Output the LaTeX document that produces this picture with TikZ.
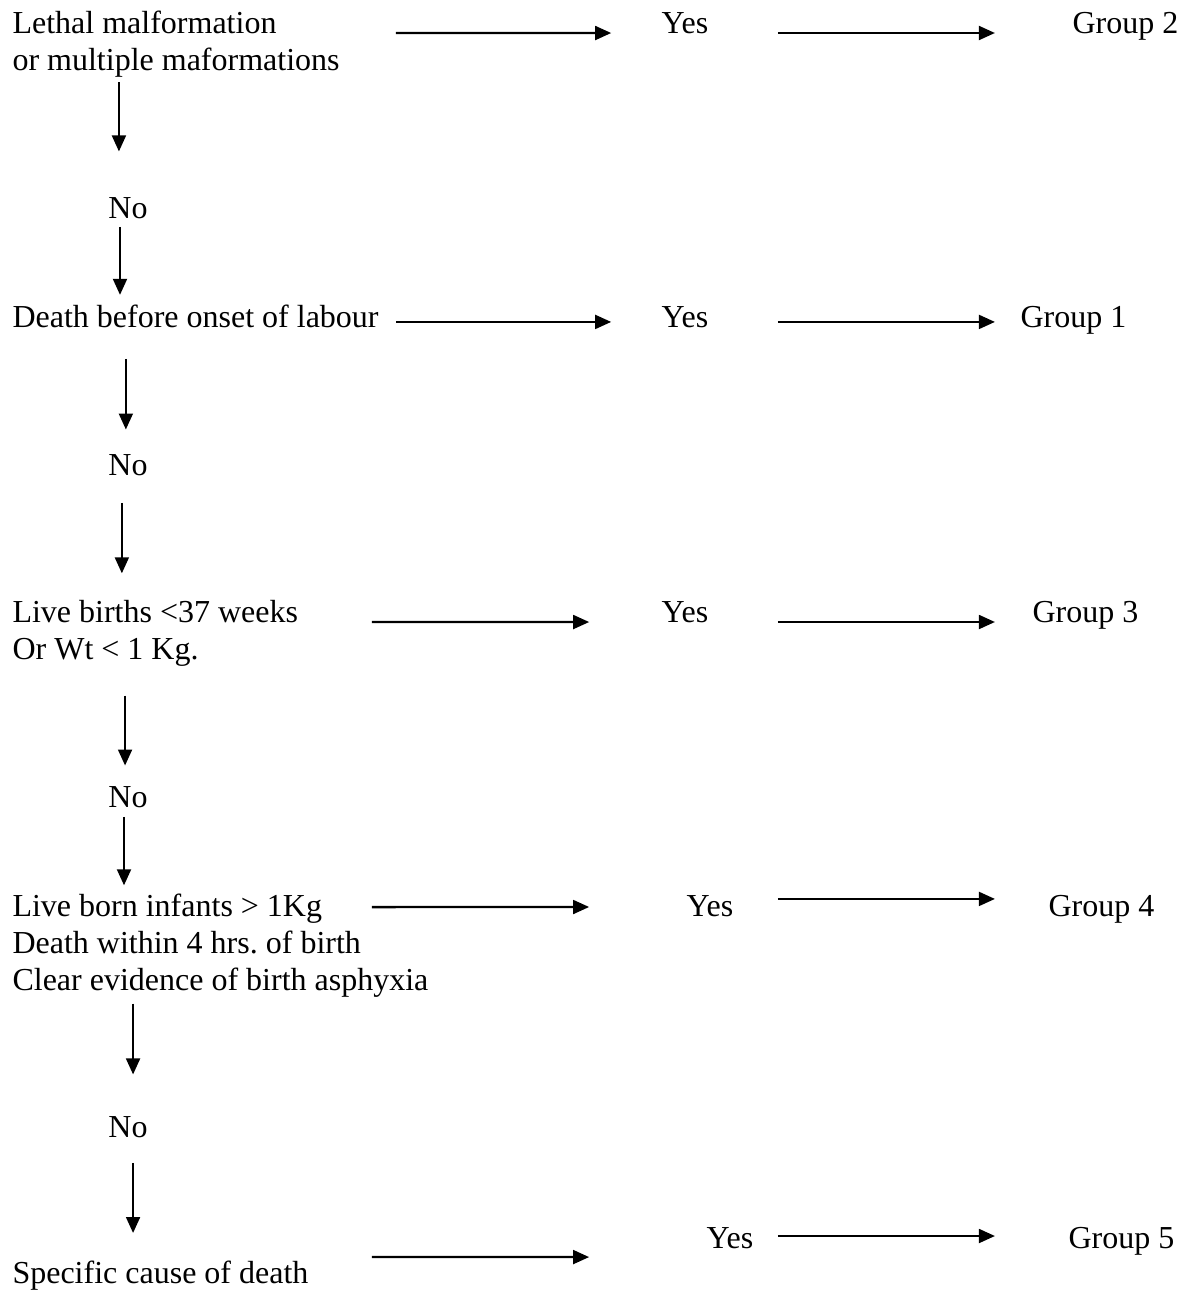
\documentclass[tikz,border=0pt]{standalone}
\usepackage{fontspec}
\setmainfont{Liberation Serif}
\usetikzlibrary{arrows.meta, positioning}

\tikzset{
  txt/.style={anchor=base west, inner sep=0pt, align=left},
  ans/.style={anchor=base, inner sep=0pt},
  arr/.style={-{Triangle[length=6pt, width=5.2pt]}, line width=0.85pt},
}

\begin{document}
\frenchspacing
\begin{tikzpicture}[x=0.375pt, y=-0.375pt, font=\fontsize{12}{13.8}\selectfont]
            \useasboundingbox (0,0) rectangle (1186,1292);
            % questions (base is the last line)
            \node[txt] (q1) at (12,70) {Lethal malformation\\or multiple maformations};
            \node[txt] (q2) at (12,327) {Death before onset of labour};
            \node[txt] (q3) at (12,659) {Live births <37 weeks\\Or Wt < 1 Kg.};
            \node[txt] (q4) at (12,990) {Live born infants > 1Kg\\Death within 4 hrs. of birth\\Clear evidence of birth asphyxia};
            \node[txt] (q5) at (12,1283) {Specific cause of death};
            % answers
            \node[ans] (yes1) at (685,33) {Yes};
            \node[ans] (yes2) at (685,327) {Yes};
            \node[ans] (yes3) at (685,622) {Yes};
            \node[ans] (yes4) at (710,916) {Yes};
            \node[ans] (yes5) at (730,1248) {Yes};
            \node[ans] (no1) at (128,218) {No};
            \node[ans] (no2) at (128,475) {No};
            \node[ans] (no3) at (128,807) {No};
            \node[ans] (no4) at (128,1137) {No};
            % groups
            \node[txt] (g2) at (1072,33) {Group 2};
            \node[txt] (g1) at (1020,327) {Group 1};
            \node[txt] (g3) at (1032,622) {Group 3};
            \node[txt] (g4) at (1048,916) {Group 4};
            \node[txt] (g5) at (1068,1248) {Group 5};

            % down the left column
            \path[arr] ([xshift=-3.4pt]no1.north |- q1.south) edge [shorten <=1.9pt, shorten >=16.9pt] ([xshift=-3.4pt]no1.north);
            \path[arr] ([xshift=-3pt]no1.south) edge [shorten <=3pt, shorten >=3.4pt] ([xshift=-3pt]no1.south |- q2.north);
            \path[arr] ([xshift=-0.8pt]no2.north |- q2.south) edge [shorten <=11.6pt, shorten >=9pt] ([xshift=-0.8pt]no2.north);
            \path[arr] ([xshift=-2.3pt]no2.south) edge [shorten <=10.1pt, shorten >=9.8pt] ([xshift=-2.3pt]no2.south |- q3.north);
            \path[arr] ([xshift=-1.1pt]no3.north |- q3.south) edge [shorten <=10.9pt, shorten >=7.5pt] ([xshift=-1.1pt]no3.north);
            \path[arr] ([xshift=-1.5pt]no3.south) edge [shorten <=3.4pt, shorten >=3pt] ([xshift=-1.5pt]no3.south |- q4.north);
            \path[arr] ([xshift=1.9pt]no4.north |- q4.south) edge [shorten <=2.3pt, shorten >=15.4pt] ([xshift=1.9pt]no4.north);
            \path[arr] ([xshift=1.9pt]no4.south) edge [shorten <=9.4pt, shorten >=10.1pt] ([xshift=1.9pt]no4.south |- q5.north);

            % across to yes and to the groups
            \path[arr] ([yshift=13.8pt]q1.base west) edge [shorten <=144pt, shorten >=18.75pt] (yes1.base west);
            \path[arr] (yes1.base east) edge [shorten <=25.9pt, shorten >=28.9pt] (g2.base west);
            \path[arr] ([yshift=1.9pt]q2.base west) edge [shorten <=144pt, shorten >=18.75pt] ([yshift=1.9pt]yes2.base west);
            \path[arr] ([yshift=1.9pt]yes2.base east) edge [shorten <=25.9pt, shorten >=9.4pt] ([yshift=1.9pt]g1.base west);
            \path[arr] ([yshift=13.8pt]q3.base west) edge [shorten <=135pt, shorten >=27pt] (yes3.base west);
            \path[arr] (yes3.base east) edge [shorten <=25.9pt, shorten >=13.9pt] (g3.base west);
            \path[arr] ([yshift=31pt]q4.base west) edge [shorten <=135pt, shorten >=36.4pt] ([yshift=3.4pt]yes4.base west);
            \path[arr] ([yshift=6.4pt]yes4.base east) edge [shorten <=16.5pt, shorten >=19.9pt] ([yshift=6.4pt]g4.base west);
            \path[arr] ([yshift=9.75pt]q5.base west) edge [shorten <=135pt, shorten >=43.9pt] ([yshift=-3.4pt]yes5.base west);
            \path[arr] ([yshift=4.5pt]yes5.base east) edge [shorten <=9pt, shorten >=27.4pt] ([yshift=4.5pt]g5.base west);
        \end{tikzpicture}
\end{document}
